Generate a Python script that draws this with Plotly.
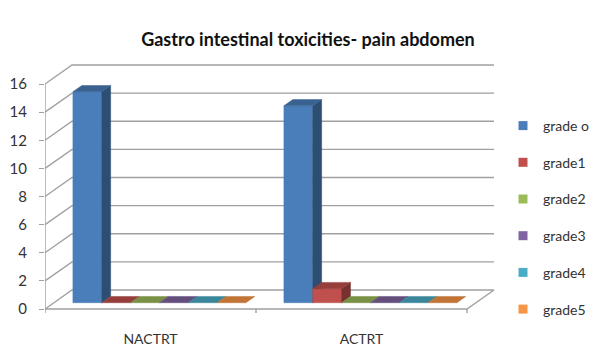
import plotly.graph_objects as go

# ---- data ----
categories = ["NACTRT", "ACTRT"]
grade_names = ["grade o", "grade1", "grade2", "grade3", "grade4", "grade5"]
grade0 = [15, 14]
grade1 = [0, 1]
grade2 = [0, 0]
grade3 = [0, 0]
grade4 = [0, 0]
grade5 = [0, 0]
series = [grade0, grade1, grade2, grade3, grade4, grade5]
y_ticks = [0, 2, 4, 6, 8, 10, 12, 14, 16]

colors = ["#4A7EBB", "#C0504D", "#9BBB59", "#8064A2", "#4BACC6", "#F79646"]

# ---- 3D projection settings (oblique) ----
DX = 27 / 211          # x shift for full depth, in category units
DY = 19 / 14.0625      # y shift for full depth, in value units
D0, D1 = 0.33, 0.66    # depth span occupied by the columns
GAP = 0.09             # gap at each side of a category
W = (1 - 2 * GAP) / len(series)
GRID = "#A0A0A0"


def shade(hex_color, f):
    h = hex_color.lstrip("#")
    r, g, b = (int(h[i:i + 2], 16) for i in (0, 2, 4))
    return "#%02X%02X%02X" % (int(r * f), int(g * f), int(b * f))


fig = go.Figure()

# walls: back gridlines plus depth lines to the front axis
gx, gy = [], []
for v in y_ticks:
    gx += [0, DX, 2 + DX, None]
    gy += [v, v + DY, v + DY, None]
fig.add_trace(go.Scatter(x=gx, y=gy, mode="lines", line=dict(color=GRID, width=1.4),
                         hoverinfo="skip", showlegend=False))

# floor edges, front axis line and category ticks
fx = [0, 0, None, 0, 2, 2 + DX, None]
fy = [y_ticks[-1], 0, None, 0, 0, DY, None]
for k in range(len(categories) + 1):
    fx += [k, k, None]
    fy += [0, -0.28, None]
fig.add_trace(go.Scatter(x=fx, y=fy, mode="lines", line=dict(color=GRID, width=1.4),
                         hoverinfo="skip", showlegend=False))


def poly(xs, ys, color):
    fig.add_trace(go.Scatter(x=xs + [xs[0]], y=ys + [ys[0]], mode="lines", fill="toself",
                             fillcolor=color, line=dict(color=color, width=0.5),
                             hoverinfo="skip", showlegend=False))


# columns, drawn left to right so nearer faces overlap correctly
for i, cat in enumerate(categories):
    for j, vals in enumerate(series):
        v = vals[i]
        c = colors[j]
        xl = i + GAP + j * W
        xr = xl + W
        sx0, sy0 = D0 * DX, D0 * DY
        sx1, sy1 = D1 * DX, D1 * DY
        if v > 0:
            # front face
            poly([xl + sx0, xr + sx0, xr + sx0, xl + sx0],
                 [sy0, sy0, sy0 + v, sy0 + v], c)
            # right side face
            poly([xr + sx0, xr + sx1, xr + sx1, xr + sx0],
                 [sy0, sy1, sy1 + v, sy0 + v], shade(c, 0.62))
        # top face
        poly([xl + sx0, xr + sx0, xr + sx1, xl + sx1],
             [sy0 + v, sy0 + v, sy1 + v, sy1 + v], shade(c, 0.78))

# legend entries
for j, name in enumerate(grade_names):
    fig.add_trace(go.Scatter(x=[None], y=[None], mode="markers", name=name,
                             marker=dict(symbol="square", size=9, color=colors[j]),
                             legendgroup=name))

fig.update_layout(
    width=598, height=348,
    margin=dict(l=45, r=98, t=60, b=33, autoexpand=False),
    paper_bgcolor="white", plot_bgcolor="white",
    font=dict(family="Lato, Open Sans, sans-serif", color="#333333", size=12),
    title=dict(text="Gastro intestinal toxicities- pain abdomen", x=0.515, xanchor="center",
               y=1 - 40 / 348, yanchor="middle", yref="container",
               font=dict(size=18, color="#111111", weight="bold")),
    xaxis=dict(range=[0, 455 / 211], tickvals=[i + 0.5 for i in range(len(categories))],
               ticktext=categories, ticks="", showgrid=False, zeroline=False,
               showline=False, ticklabelstandoff=14, tickfont=dict(size=14),
               automargin=False),
    yaxis=dict(range=[-0.4267, 17.707], tickvals=y_ticks, ticks="outside", ticklen=5,
               tickcolor=GRID, tickwidth=1.4, showgrid=False, zeroline=False,
               showline=False, ticklabelstandoff=9, tickfont=dict(size=15),
               automargin=False),
    legend=dict(x=(503 - 45) / 455, xanchor="left", y=(315 - 110) / 255, yanchor="top",
                tracegroupgap=15.5, font=dict(size=14), itemwidth=30,
                bgcolor="rgba(0,0,0,0)"),
)

fig.write_html("out.html")
